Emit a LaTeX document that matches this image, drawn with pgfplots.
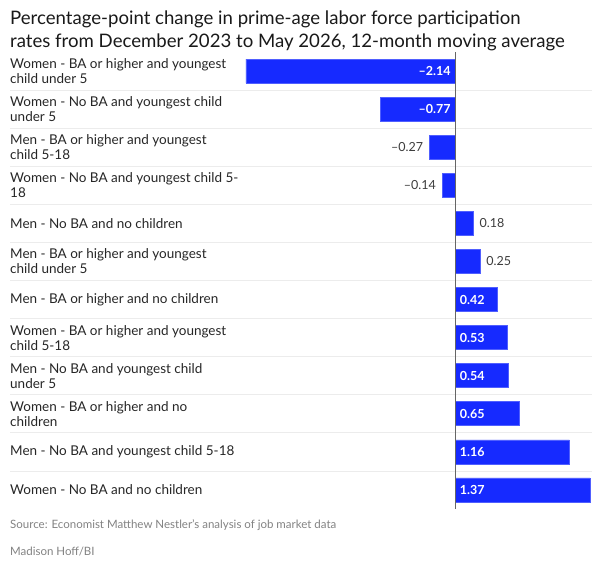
\documentclass[border=0pt]{standalone}
\usepackage{pgfplots}
\pgfplotsset{compat=1.18}
\usepackage{fontspec}
\setmainfont{Lato}
\definecolor{barblue}{RGB}{22,42,255}
\definecolor{sepgray}{RGB}{236,236,236}
\definecolor{labgray}{RGB}{60,60,60}
\definecolor{srcgray}{RGB}{130,130,130}
\begin{document}
\begin{tikzpicture}[x=1pt,y=1pt]
\useasboundingbox (0,0) rectangle (600,560);
\node[anchor=base west,inner sep=0,font=\fontsize{18.6}{21}\selectfont,text=black!90] at (10,535) {Percentage-point change in prime-age labor force participation};
\node[anchor=base west,inner sep=0,font=\fontsize{18.6}{21}\selectfont,text=black!90] at (10,512) {rates from December 2023 to May 2026, 12-month moving average};
\begin{axis}[
  at={(246pt,51pt)}, anchor=south west,
  width=344pt, height=457pt, scale only axis,
  xmin=-2.14, xmax=1.37,
  ymin=-0.5, ymax=11.5, y dir=reverse,
  hide x axis,
  axis line style={draw=none},
  major tick length=0pt,
  ytick={0,...,11},
  yticklabels={
    {Women - BA or higher and youngest\\child under 5},
    {Women - No BA and youngest child\\under 5},
    {Men - BA or higher and youngest\\child 5-18},
    {Women - No BA and youngest child 5-\\18},
    {Men - No BA and no children},
    {Men - BA or higher and youngest\\child under 5},
    {Men - BA or higher and no children},
    {Women - BA or higher and youngest\\child 5-18},
    {Men - No BA and youngest child\\under 5},
    {Women - BA or higher and no\\children},
    {Men - No BA and youngest child 5-18},
    {Women - No BA and no children}},
  yticklabel style={anchor=west, xshift=-236pt, inner sep=0pt, align=left,
    font=\fontsize{13.5}{15}\selectfont, text=black!85},
  clip=false,
]
\pgfplotsinvokeforeach{0,...,10}{
  \draw[sepgray, line width=0.8pt] ([xshift=-236pt]axis cs:-2.14,#1+0.5) -- ([xshift=2pt]axis cs:1.37,#1+0.5);
}
\addplot[xbar, bar width=24pt, fill=barblue, draw=barblue!75!white, line width=0.6pt] coordinates {
  (-2.14,0) (-0.77,1) (-0.27,2) (-0.14,3) (0.18,4) (0.25,5)
  (0.42,6) (0.53,7) (0.54,8) (0.65,9) (1.16,10) (1.37,11)
};
\draw[black!60, line width=0.9pt] (axis cs:0,-0.5) -- (axis cs:0,11.5);
\tikzset{inl/.style={font=\fontsize{12.5}{14}\selectfont\bfseries, text=white, inner sep=0pt},
         outl/.style={font=\fontsize{12.5}{14}\selectfont, text=labgray, inner sep=0pt}}
\node[inl, anchor=east] at ([xshift=-5pt]axis cs:0,0) {–2.14};
\node[inl, anchor=east] at ([xshift=-5pt]axis cs:0,1) {–0.77};
\node[outl, anchor=east] at ([xshift=-6pt]axis cs:-0.27,2) {–0.27};
\node[outl, anchor=east] at ([xshift=-6pt]axis cs:-0.14,3) {–0.14};
\node[outl, anchor=west] at ([xshift=6pt]axis cs:0.18,4) {0.18};
\node[outl, anchor=west] at ([xshift=6pt]axis cs:0.25,5) {0.25};
\node[inl, anchor=west] at ([xshift=4pt]axis cs:0,6) {0.42};
\node[inl, anchor=west] at ([xshift=4pt]axis cs:0,7) {0.53};
\node[inl, anchor=west] at ([xshift=4pt]axis cs:0,8) {0.54};
\node[inl, anchor=west] at ([xshift=4pt]axis cs:0,9) {0.65};
\node[inl, anchor=west] at ([xshift=4pt]axis cs:0,10) {1.16};
\node[inl, anchor=west] at ([xshift=4pt]axis cs:0,11) {1.37};
\end{axis}
\node[anchor=base west,inner sep=0,font=\fontsize{11.5}{13}\selectfont,text=srcgray] at (10,31) {Source: Economist Matthew Nestler's analysis of job market data};
\node[anchor=base west,inner sep=0,font=\fontsize{11.5}{13}\selectfont,text=srcgray] at (10,5) {Madison Hoff/BI};
\end{tikzpicture}
\end{document}
